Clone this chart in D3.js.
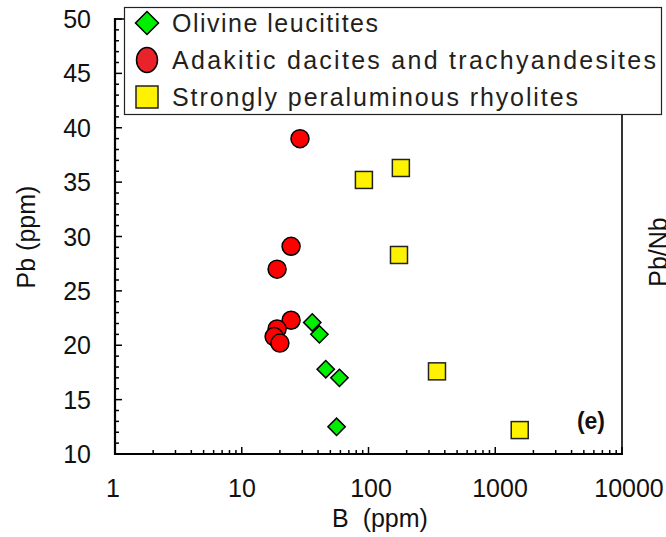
<!DOCTYPE html>
<html>
<head>
<meta charset="utf-8">
<script src="https://cdn.jsdelivr.net/npm/d3@7"></script>
<style>
  html, body { margin: 0; padding: 0; background: #fff; }
  svg { display: block; font-family: "Liberation Sans", Arial, sans-serif; }
</style>
</head>
<body>
<svg id="chart" width="666" height="537"></svg>
<script>
// B (ppm) vs Pb (ppm) for three rock groups
const olivineB  = [36, 41, 46, 59, 56];
const olivinePb = [22.1, 21.0, 17.8, 17.0, 12.5];

const adakiticB  = [28.8, 24.5, 19.0, 24.5, 19.0, 18.0, 20.0];
const adakiticPb = [39.0, 29.1, 27.0, 22.3, 21.5, 20.8, 20.2];

const rhyoliteB  = [92, 180, 174, 347, 1560];
const rhyolitePb = [35.2, 36.3, 28.3, 17.6, 12.2];

const xTicks = [1, 10, 100, 1000, 10000];
const yTicks = [10, 15, 20, 25, 30, 35, 40, 45, 50];

const legendLabels = [
  "Olivine leucitites",
  "Adakitic dacites and trachyandesites",
  "Strongly peraluminous rhyolites"
];

const svg = d3.select("#chart");
const pLeft = 115, pRight = 622, pTop = 19, pBottom = 454;
const fs = 25;

const x = d3.scaleLog().domain([1, 10000]).range([pLeft, pRight]);
const y = d3.scaleLinear().domain([10, 50]).range([pBottom, pTop]);
// tick labels sit on a slightly wider spread than the ticks themselves
const xLabel = d3.scaleLog().domain([1, 10000]).range([pLeft - 2, pRight + 7]);

// frame on the right and top
svg.append("line")
  .attr("x1", pRight).attr("x2", pRight).attr("y1", pTop).attr("y2", pBottom)
  .attr("stroke", "#000").attr("stroke-width", 1.6);
svg.append("line")
  .attr("x1", pLeft).attr("x2", pRight).attr("y1", pTop).attr("y2", pTop)
  .attr("stroke", "#000").attr("stroke-width", 1.6);

// x axis: minor ticks 2..9 per decade, inward
const xMinor = [];
for (let d = 1; d < 10000; d *= 10) for (let k = 2; k <= 9; k++) xMinor.push(d * k);
const xAxisG = svg.append("g");
xAxisG.selectAll("line.minor").data(xMinor).join("line")
  .attr("class", "minor")
  .attr("x1", d => x(d)).attr("x2", d => x(d))
  .attr("y1", pBottom).attr("y2", pBottom - 4)
  .attr("stroke", "#000").attr("stroke-width", 1.5);
xAxisG.selectAll("line.major").data(xTicks).join("line")
  .attr("class", "major")
  .attr("x1", d => x(d)).attr("x2", d => x(d))
  .attr("y1", pBottom).attr("y2", pBottom - 7)
  .attr("stroke", "#000").attr("stroke-width", 1.5);
xAxisG.append("line")
  .attr("x1", pLeft - 1).attr("x2", pRight + 1).attr("y1", pBottom).attr("y2", pBottom)
  .attr("stroke", "#000").attr("stroke-width", 2.2);
xAxisG.selectAll("text").data(xTicks).join("text")
  .attr("x", d => xLabel(d)).attr("y", 497)
  .attr("text-anchor", "middle")
  .attr("font-size", fs).attr("fill", "#111")
  .text(d => d3.format("d")(d));

// y axis: minor ticks every 1 unit, inward
const yMinor = d3.range(10, 51, 1);
const yAxisG = svg.append("g");
yAxisG.selectAll("line").data(yMinor).join("line")
  .attr("x1", pLeft).attr("x2", d => pLeft + (d % 5 === 0 ? 7 : 4))
  .attr("y1", d => y(d)).attr("y2", d => y(d))
  .attr("stroke", "#000").attr("stroke-width", 1.5);
yAxisG.append("line")
  .attr("x1", pLeft).attr("x2", pLeft).attr("y1", pTop - 1).attr("y2", pBottom + 1)
  .attr("stroke", "#000").attr("stroke-width", 2.2);
yAxisG.selectAll("text").data(yTicks).join("text")
  .attr("x", 91).attr("y", d => y(d) + 9)
  .attr("text-anchor", "end")
  .attr("font-size", fs).attr("fill", "#111")
  .text(d => d);

// axis titles
svg.append("text")
  .attr("x", 380).attr("y", 527)
  .attr("text-anchor", "middle").attr("font-size", fs).attr("fill", "#111")
  .attr("xml:space", "preserve")
  .text("B  (ppm)");
svg.append("text")
  .attr("transform", "translate(35,237) rotate(-90)")
  .attr("text-anchor", "middle").attr("font-size", fs).attr("fill", "#111")
  .text("Pb (ppm)");

// neighbouring panel's axis title, cut by the edge
svg.append("text")
  .attr("transform", "translate(667,252) rotate(-90)")
  .attr("text-anchor", "middle").attr("font-size", fs).attr("fill", "#111")
  .text("Pb/Nb");

// panel label
svg.append("text")
  .attr("x", 605).attr("y", 429)
  .attr("text-anchor", "end").attr("font-size", 23).attr("font-weight", "bold")
  .attr("fill", "#111")
  .text("(e)");

// markers
const diamond = d3.symbol().type(d3.symbolSquare).size(150);
const plotG = svg.append("g");

plotG.selectAll("circle").data(adakiticB.map((b, i) => [b, adakiticPb[i]])).join("circle")
  .attr("cx", d => x(d[0])).attr("cy", d => y(d[1])).attr("r", 9)
  .attr("fill", "#ff0000").attr("stroke", "#000").attr("stroke-width", 1.5);

plotG.selectAll("path.dia").data(olivineB.map((b, i) => [b, olivinePb[i]])).join("path")
  .attr("class", "dia")
  .attr("d", diamond)
  .attr("transform", d => `translate(${x(d[0])},${y(d[1])}) rotate(45)`)
  .attr("fill", "#00ee00").attr("stroke", "#000").attr("stroke-width", 1.5);

plotG.selectAll("rect").data(rhyoliteB.map((b, i) => [b, rhyolitePb[i]])).join("rect")
  .attr("x", d => x(d[0]) - 8.5).attr("y", d => y(d[1]) - 8.5)
  .attr("width", 17).attr("height", 17)
  .attr("fill", "#fff200").attr("stroke", "#222").attr("stroke-width", 1.5);

// legend
const lg = svg.append("g");
lg.append("rect")
  .attr("x", 124.5).attr("y", 7.5).attr("width", 537).attr("height", 107)
  .attr("fill", "#fff").attr("stroke", "#222").attr("stroke-width", 1.2);
const rowY = [23, 60, 97];
const textLens = [206, 484, 406];
lg.append("path")
  .attr("d", d3.symbol().type(d3.symbolSquare).size(265))
  .attr("transform", `translate(147,${rowY[0]}) rotate(45)`)
  .attr("fill", "#00ee00").attr("stroke", "#000").attr("stroke-width", 1.5);
lg.append("ellipse")
  .attr("cx", 147).attr("cy", rowY[1]).attr("rx", 10.5).attr("ry", 12.5)
  .attr("fill", "#e8232a").attr("stroke", "#000").attr("stroke-width", 1.5);
lg.append("rect")
  .attr("x", 136).attr("y", rowY[2] - 11).attr("width", 22).attr("height", 22)
  .attr("fill", "#fff200").attr("stroke", "#222").attr("stroke-width", 1.5);
lg.selectAll("text").data(legendLabels).join("text")
  .attr("x", 172).attr("y", (d, i) => rowY[i] + 9)
  .attr("font-size", fs).attr("fill", "#231f20")
  .attr("textLength", (d, i) => textLens[i]).attr("lengthAdjust", "spacing")
  .text(d => d);
</script>
</body>
</html>
